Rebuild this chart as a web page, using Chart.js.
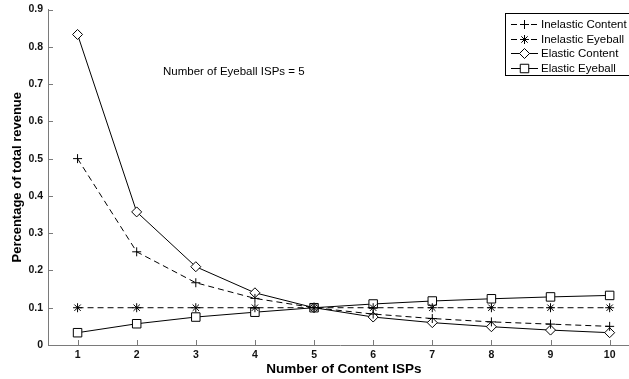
<!DOCTYPE html>
<html>
<head>
<meta charset="utf-8">
<script src="https://cdn.jsdelivr.net/npm/chart.js@4/dist/chart.umd.min.js"></script>
<style>
  html, body { margin: 0; padding: 0; background: #fff; overflow: hidden; }
  #wrap { width: 629px; height: 379px; position: relative; overflow: hidden; }
  #c { position: absolute; left: 0; top: 0; }
</style>
</head>
<body>
<div id="wrap"><canvas id="c" width="639" height="379"></canvas></div>
<script>
// ---- data ----
const contentISPs = [1, 2, 3, 4, 5, 6, 7, 8, 9, 10];
const inelasticContent = [0.5, 0.25, 0.167, 0.125, 0.1, 0.083, 0.071, 0.062, 0.056, 0.05];
const inelasticEyeball = [0.1, 0.1, 0.1, 0.1, 0.1, 0.1, 0.1, 0.1, 0.1, 0.1];
const elasticContent = [0.833, 0.357, 0.21, 0.14, 0.1, 0.075, 0.06, 0.049, 0.04, 0.033];
const elasticEyeball = [0.033, 0.057, 0.075, 0.088, 0.1, 0.11, 0.118, 0.124, 0.129, 0.133];
const seriesNames = ['Inelastic Content', 'Inelastic Eyeball', 'Elastic Content', 'Elastic Eyeball'];
const xTickValues = [1, 2, 3, 4, 5, 6, 7, 8, 9, 10];
const yTickValues = [0, 0.1, 0.2, 0.3, 0.4, 0.5, 0.6, 0.7, 0.8, 0.9];
const yTickLabels = ['0', '0.1', '0.2', '0.3', '0.4', '0.5', '0.6', '0.7', '0.8', '0.9'];
const annotationText = 'Number of Eyeball ISPs = 5';
const xTitle = 'Number of Content ISPs';
const yTitle = 'Percentage of total revenue';

const FONT = "'Liberation Sans', Arial, Helvetica, sans-serif";
const AXIS_COLOR = '#7a7a7a';

function pts(vals) { return contentISPs.map((x, i) => ({ x: x, y: vals[i] })); }

const styles = [
  { pointStyle: 'cross', radius: 4.5, dash: [6, 4], fill: 'rgba(0,0,0,0)' },
  { pointStyle: 'star', radius: 4.5, dash: [6, 4], fill: 'rgba(0,0,0,0)' },
  { pointStyle: 'rectRot', radius: 5, dash: [], fill: '#ffffff' },
  { pointStyle: 'rect', radius: 6, dash: [], fill: '#ffffff' }
];
const seriesValues = [inelasticContent, inelasticEyeball, elasticContent, elasticEyeball];

const datasets = seriesValues.map((vals, i) => ({
  label: seriesNames[i],
  data: pts(vals),
  borderColor: '#000',
  borderWidth: 1,
  borderDash: styles[i].dash,
  pointStyle: styles[i].pointStyle,
  pointRadius: styles[i].radius,
  pointHoverRadius: styles[i].radius,
  pointBorderColor: '#000',
  pointBorderWidth: 1,
  pointBackgroundColor: styles[i].fill,
  tension: 0,
  fill: false
}));

function drawMarker(ctx, style, radius, x, y, fill) {
  if (window.Chart && Chart.helpers && Chart.helpers.drawPoint) {
    ctx.save();
    ctx.setLineDash([]);
    ctx.strokeStyle = '#000';
    ctx.fillStyle = fill;
    ctx.lineWidth = 1;
    Chart.helpers.drawPoint(ctx, { pointStyle: style, radius: radius, rotation: 0, borderWidth: 1 }, x, y);
    ctx.restore();
  }
}

const overlayPlugin = {
  id: 'overlay',
  afterDatasetsDraw(chart) {
    const ctx = chart.ctx;
    const xs = chart.scales.x, ys = chart.scales.y;
    const area = chart.chartArea;
    ctx.save();
    // inward ticks
    ctx.strokeStyle = AXIS_COLOR;
    ctx.lineWidth = 1;
    ctx.setLineDash([]);
    ctx.beginPath();
    xTickValues.forEach(v => {
      const px = Math.round(xs.getPixelForValue(v)) + 0.5;
      ctx.moveTo(px, area.bottom);
      ctx.lineTo(px, area.bottom - 5);
    });
    yTickValues.forEach(v => {
      const py = Math.round(ys.getPixelForValue(v)) + 0.5;
      ctx.moveTo(area.left, py);
      ctx.lineTo(area.left + 5, py);
    });
    ctx.stroke();

    // x axis title (centred on the full MATLAB axis, which extends past the crop)
    ctx.fillStyle = '#000';
    ctx.font = 'bold 13.5px ' + FONT;
    ctx.textBaseline = 'middle';
    ctx.textAlign = 'center';
    ctx.fillText(xTitle, 344, 369);

    // annotation
    ctx.font = '11.5px ' + FONT;
    ctx.textAlign = 'left';
    ctx.fillText(annotationText, 163, 72);

    // legend
    const bx = 505.5, by = 13.5, bw = 140, bh = 62;
    ctx.fillStyle = '#fff';
    ctx.fillRect(bx, by, bw, bh);
    ctx.strokeStyle = '#000';
    ctx.lineWidth = 1;
    ctx.strokeRect(bx, by, bw, bh);
    const rowY = [24, 38.5, 53, 68];
    seriesNames.forEach((name, i) => {
      const y = Math.round(rowY[i]) + 0.5;
      ctx.save();
      ctx.strokeStyle = '#000';
      ctx.lineWidth = 1;
      ctx.setLineDash(styles[i].dash);
      ctx.beginPath();
      ctx.moveTo(511, y);
      ctx.lineTo(538, y);
      ctx.stroke();
      ctx.restore();
      drawMarker(ctx, styles[i].pointStyle, styles[i].radius, 524.5, y, styles[i].fill);
      ctx.fillStyle = '#000';
      ctx.font = '11.5px ' + FONT;
      ctx.textBaseline = 'middle';
      ctx.textAlign = 'left';
      ctx.fillText(name, 541, y + 0.5);
    });
    ctx.restore();
  }
};

new Chart(document.getElementById('c'), {
  type: 'line',
  data: { datasets: datasets },
  plugins: [overlayPlugin],
  options: {
    responsive: false,
    animation: false,
    devicePixelRatio: 1,
    layout: { padding: { top: 9.5, left: 0, right: 0, bottom: 0 } },
    plugins: {
      legend: { display: false },
      tooltip: { enabled: false },
      title: { display: false }
    },
    scales: {
      x: {
        type: 'linear',
        min: 0.5,
        max: 10.378,
        afterBuildTicks(scale) { scale.ticks = xTickValues.map(v => ({ value: v })); },
        afterFit(scale) { scale.height = 34; scale.paddingRight = 0; scale.paddingLeft = 0; },
        grid: { display: false, drawTicks: false },
        border: { display: true, color: AXIS_COLOR, width: 1 },
        ticks: {
          color: '#111',
          padding: 4,
          maxRotation: 0,
          autoSkip: false,
          font: { family: FONT, size: 10.5, weight: 'bold' },
          callback: (v) => String(v)
        },
        title: { display: false }
      },
      y: {
        type: 'linear',
        min: 0,
        max: 0.9,
        afterBuildTicks(scale) { scale.ticks = yTickValues.map(v => ({ value: v })); },
        afterFit(scale) { scale.width = 48; scale.paddingTop = 0; scale.paddingBottom = 0; },
        grid: { display: false, drawTicks: false },
        border: { display: true, color: AXIS_COLOR, width: 1 },
        ticks: {
          color: '#111',
          padding: 5,
          autoSkip: false,
          font: { family: FONT, size: 10.5, weight: 'bold' },
          callback: (v, i) => yTickLabels[i]
        },
        title: {
          display: true,
          text: yTitle,
          color: '#000',
          font: { family: FONT, size: 13, weight: 'bold' },
          padding: { top: 10, bottom: 0 }
        }
      }
    }
  }
});
</script>
</body>
</html>
